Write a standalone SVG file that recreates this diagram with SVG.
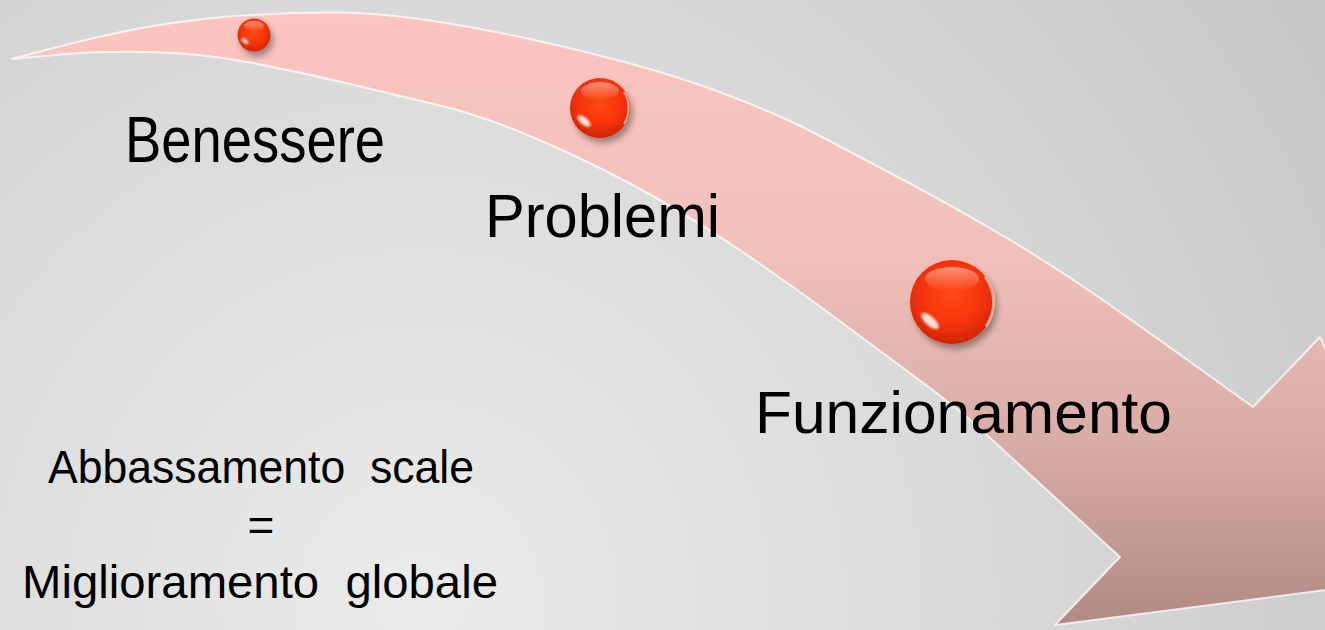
<svg xmlns="http://www.w3.org/2000/svg" width="1325" height="630" viewBox="0 0 1325 630">
<defs>
<radialGradient id="bg" cx="420" cy="600" r="1100" gradientUnits="userSpaceOnUse">
<stop offset="0" stop-color="#ebebeb"/>
<stop offset="0.55" stop-color="#d8d8d8"/>
<stop offset="1" stop-color="#c6c6c6"/>
</radialGradient>
<linearGradient id="arrowFill" x1="0" y1="0" x2="0" y2="630" gradientUnits="userSpaceOnUse">
<stop offset="0" stop-color="#fbc5c1"/>
<stop offset="0.4" stop-color="#f1c0bb"/>
<stop offset="0.7" stop-color="#d8aca7"/>
<stop offset="1" stop-color="#b08883"/>
</linearGradient>
<radialGradient id="ballFill" cx="0.5" cy="0.4" r="0.6">
<stop offset="0" stop-color="#ff4a16"/>
<stop offset="0.6" stop-color="#f7340a"/>
<stop offset="1" stop-color="#cf2604"/>
</radialGradient>
<linearGradient id="topShine" x1="0" y1="0" x2="0" y2="1">
<stop offset="0" stop-color="#ffffff" stop-opacity="0.45"/>
<stop offset="1" stop-color="#ffffff" stop-opacity="0"/>
</linearGradient>
<filter id="shadow" x="-40%" y="-40%" width="190%" height="190%">
<feGaussianBlur in="SourceAlpha" stdDeviation="3"/>
<feOffset dx="3" dy="5" result="b"/>
<feComponentTransfer><feFuncA type="linear" slope="0.35"/></feComponentTransfer>
<feMerge><feMergeNode/><feMergeNode in="SourceGraphic"/></feMerge>
</filter>
<filter id="soft" x="-50%" y="-50%" width="200%" height="200%">
<feGaussianBlur stdDeviation="1.2"/>
</filter>
<filter id="edgeGlow" x="-5%" y="-5%" width="110%" height="110%">
<feGaussianBlur stdDeviation="0.6"/>
</filter>
</defs>
<style>
.lbl{font-family:"Liberation Sans","DejaVu Sans",sans-serif;fill:#000;}
.ball{fill:url(#ballFill);}
.shine{fill:url(#topShine);}
.spec{fill:#fff;opacity:0.85;filter:url(#soft);}
.rim{fill:none;stroke:#ffd0c0;stroke-opacity:0.7;}
</style>
<rect x="0" y="0" width="1325" height="630" fill="url(#bg)"/>

<g id="arrow">
<path d="M 12,59 Q 100,35 150,26.5 Q 200,18 250,15 Q 300,12 340,12.5 Q 380,13 430,20.5 Q 480,28 530,39 Q 580,50 630,63.5 Q 680,77 730,96 Q 780,115 820,136 Q 860,157 910,183.5 Q 960,210 1010,240 Q 1060,270 1105,301.5 Q 1150,333 1253,407 L 1320,337 L 1330,360 L 1480,570 L 1055,625 L 1120,557 L 1060,502 Q 1000,447 980,428.5 Q 960,410 910,373 Q 860,336 820,306.5 Q 780,277 730,243.5 Q 680,210 630,183.5 Q 580,157 530,136 Q 480,115 440,105.5 Q 400,96 350,84 Q 300,72 250,62.5 Q 200,53 150,52 Q 100,51 66,54 Q 33,57 12,59 Z" fill="url(#arrowFill)" stroke="#ffffff" stroke-width="2" stroke-opacity="0.75" stroke-linejoin="round" filter="url(#edgeGlow)"/>
</g>

<g id="node-ball1" filter="url(#shadow)">
<circle class="ball" cx="254" cy="35" r="16.5"/>
<ellipse class="shine" cx="254" cy="26" rx="10" ry="5"/>
<ellipse class="spec" cx="245" cy="41" rx="4" ry="2" transform="rotate(40 245 41)"/>
</g>

<g id="node-ball2" filter="url(#shadow)">
<circle class="ball" cx="600" cy="108" r="30"/>
<ellipse class="shine" cx="600" cy="91" rx="19" ry="9"/>
<ellipse class="spec" cx="584" cy="121" rx="8" ry="3.5" transform="rotate(40 584 121)"/>
<path class="rim" d="M 624,92 A 30,30 0 0 1 624,124" stroke-width="2"/>
</g>

<g id="node-ball3" filter="url(#shadow)">
<circle class="ball" cx="952" cy="302" r="42"/>
<ellipse class="shine" cx="952" cy="279" rx="27" ry="12"/>
<ellipse class="spec" cx="930" cy="321" rx="11" ry="4.5" transform="rotate(42 930 321)"/>
<path class="rim" d="M 985,277 A 42,42 0 0 1 986,326" stroke-width="2.5"/>
</g>

<g id="labels">
<text class="lbl" x="125" y="162" font-size="65" textLength="260" lengthAdjust="spacingAndGlyphs">Benessere</text>
<text class="lbl" x="485" y="237" font-size="62" textLength="235" lengthAdjust="spacingAndGlyphs">Problemi</text>
<text class="lbl" x="755" y="433" font-size="60" textLength="417" lengthAdjust="spacingAndGlyphs">Funzionamento</text>
</g>

<g id="note">
<text class="lbl" x="48" y="483" font-size="46" textLength="426" lengthAdjust="spacingAndGlyphs" xml:space="preserve">Abbassamento  scale</text>
<text class="lbl" x="261" y="541" font-size="46" text-anchor="middle">=</text>
<text class="lbl" x="22" y="598" font-size="46" textLength="476" lengthAdjust="spacingAndGlyphs" xml:space="preserve">Miglioramento  globale</text>
</g>
</svg>
